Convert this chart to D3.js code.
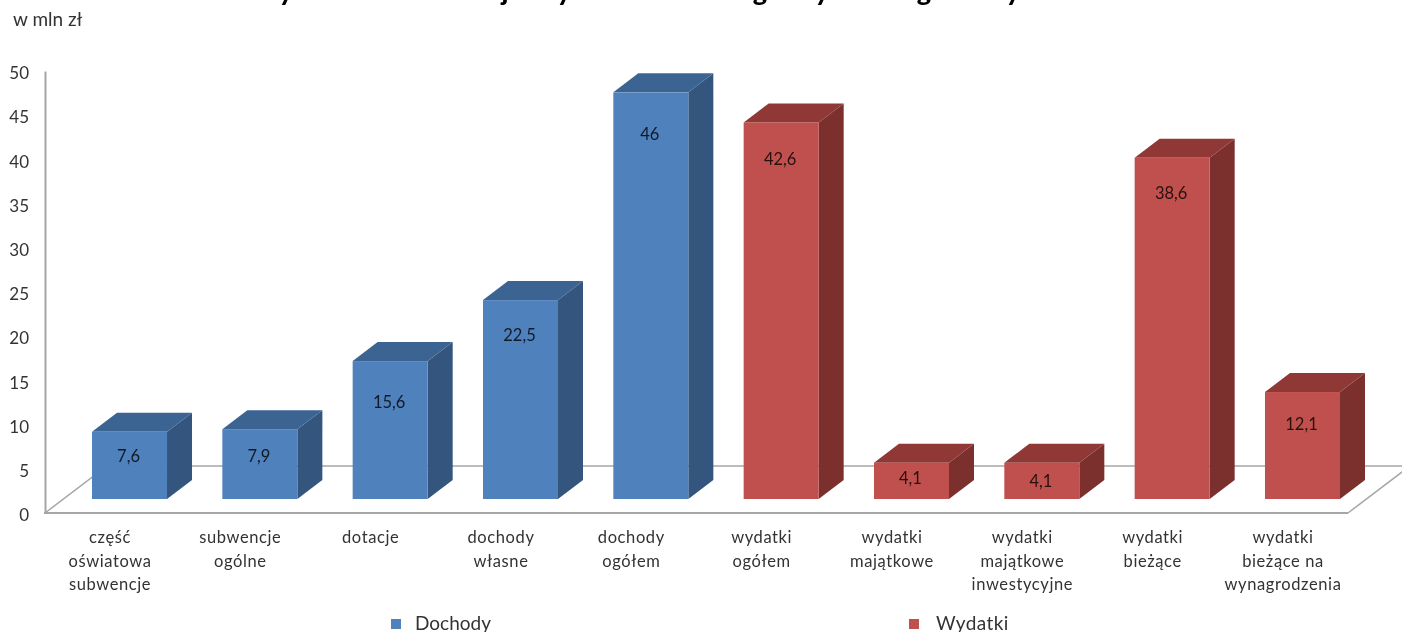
<!DOCTYPE html>
<html><head><meta charset="utf-8">
<script src="https://cdn.jsdelivr.net/npm/d3@7"></script>
<style>html,body{margin:0;padding:0;background:#fff;overflow:hidden}svg{display:block;filter:blur(0.45px)}text{font-family:Lato,"Open Sans",sans-serif}</style>
</head><body><svg id="c" width="1402" height="632"></svg>
<script>
const categories=[["część","oświatowa","subwencje"],["subwencje","ogólne"],["dotacje"],["dochody","własne"],["dochody","ogółem"],["wydatki","ogółem"],["wydatki","majątkowe"],["wydatki","majątkowe","inwestycyjne"],["wydatki","bieżące"],["wydatki","bieżące na","wynagrodzenia"]];
const values=[7.6,7.9,15.6,22.5,46,42.6,4.1,4.1,38.6,12.1];
const series=["Dochody","Dochody","Dochody","Dochody","Dochody","Wydatki","Wydatki","Wydatki","Wydatki","Wydatki"];
const valueLabels=["7,6","7,9","15,6","22,5","46","42,6","4,1","4,1","38,6","12,1"];
const yTicks=[0,5,10,15,20,25,30,35,40,45,50];
const legendNames=["Dochody","Wydatki"];
const unitLabel="w mln zł";
const titleFragments=["y","j","y","g","y","g","y"];

// layout
const labelDrop=[23,26,40,34,40,35,14,17,34,31];
const titleX=[286,505,564,760,822,924,1013];
const legendX=[391,909];
const legendTextX=[24,27];
const DX=25,DY=19,FRONT_DROP=14;
const palette={Dochody:{front:"#4f81bd",side:"#34557d",top:"#3b6493"},Wydatki:{front:"#c0504d",side:"#7c302e",top:"#8f3835"}};

const svg=d3.select("#c");
const idx=d3.range(values.length);
const x=d3.scaleBand().domain(idx).range([92,1340]).paddingInner(0.4244).paddingOuter(0);
const y=d3.scaleLinear().domain([0,50]).range([513,71]);
const yFront=v=>y(v)-FRONT_DROP;
const color=d3.scaleOrdinal().domain(legendNames).range(legendNames.map(n=>palette[n].front));

// title fragments, cut by the top edge of the picture
svg.append("g").selectAll("text").data(titleFragments).join("text")
  .attr("x",(d,i)=>titleX[i]).attr("y",1).attr("text-anchor","middle")
  .attr("font-size",27).attr("font-weight",900).attr("fill","#000").text(d=>d);

svg.append("text").attr("x",13).attr("y",26).attr("font-size",19).attr("fill","#333").text(unitLabel);

// floor
const floorColor="#a6a6a6";
const floor=svg.append("g").attr("fill","none").attr("stroke",floorColor).attr("stroke-width",2);
const back=y(0)-47, slope=41/54, floorDx=47/slope;
floor.append("path").attr("stroke-width",1.5).attr("d",`M45,${y(0)}L${45+floorDx},${back}H1420`);
floor.append("path").attr("stroke-width",1.5).attr("d",`M1348,${y(0)}L${1348+floorDx},${back}`);

// axes
const yAxis=d3.axisLeft(y).tickValues(yTicks).tickSize(0).tickPadding(16);
const gy=svg.append("g").attr("transform","translate(45,0)").call(yAxis);
gy.select(".domain").attr("stroke",floorColor).attr("stroke-width",2);
gy.selectAll("text").attr("font-size",17).attr("fill","#333").attr("font-family","Lato").attr("dy","0.45em");
svg.append("line").attr("x1",44).attr("x2",1348).attr("y1",y(0)).attr("y2",y(0)).attr("stroke",floorColor).attr("stroke-width",2);

// bars
const bars=svg.append("g").selectAll("g").data(idx).join("g");
bars.append("path").attr("fill",i=>palette[series[i]].side).attr("d",i=>{
  const r=x(i)+x.bandwidth(),t=yFront(values[i]),b=yFront(0);
  return `M${r},${t}L${r+DX},${t-DY}V${b-DY}L${r},${b}Z`;});
bars.append("path").attr("fill",i=>palette[series[i]].top).attr("d",i=>{
  const l=x(i),r=l+x.bandwidth(),t=yFront(values[i]);
  return `M${l},${t}L${l+DX},${t-DY}H${r+DX}L${r},${t}Z`;});
bars.append("rect").attr("fill",i=>color(series[i]))
  .attr("x",i=>x(i)).attr("width",x.bandwidth())
  .attr("y",i=>yFront(values[i])).attr("height",i=>yFront(0)-yFront(values[i]));
bars.append("text").attr("x",i=>x(i)+x.bandwidth()/2-1).attr("y",i=>yFront(values[i])+labelDrop[i]+1.5)
  .attr("dy","0.35em").attr("text-anchor","middle").attr("font-size",16.5).attr("fill","#000").attr("fill-opacity",.8)
  .text(i=>valueLabels[i]);

// category labels
const cats=svg.append("g").selectAll("text").data(idx).join("text")
  .attr("text-anchor","middle").attr("font-size",16.5).attr("fill","#333")
  .attr("letter-spacing",.6);
cats.selectAll("tspan").data(i=>categories[i].map(t=>({t,i}))).join("tspan")
  .attr("x",d=>x(d.i)+x.bandwidth()/2-19.5).attr("y",(d,j)=>543+j*23.5).text(d=>d.t);

// legend
const leg=svg.append("g").selectAll("g").data(legendNames).join("g").attr("transform",(d,i)=>`translate(${legendX[i]},0)`);
leg.append("rect").attr("y",619).attr("width",10).attr("height",10).attr("fill",d=>color(d));
leg.append("text").attr("x",(d,i)=>legendTextX[i]).attr("y",630).attr("font-size",19).attr("letter-spacing",(d,i)=>i?.4:0).attr("fill","#333").text(d=>d);
</script></body></html>
